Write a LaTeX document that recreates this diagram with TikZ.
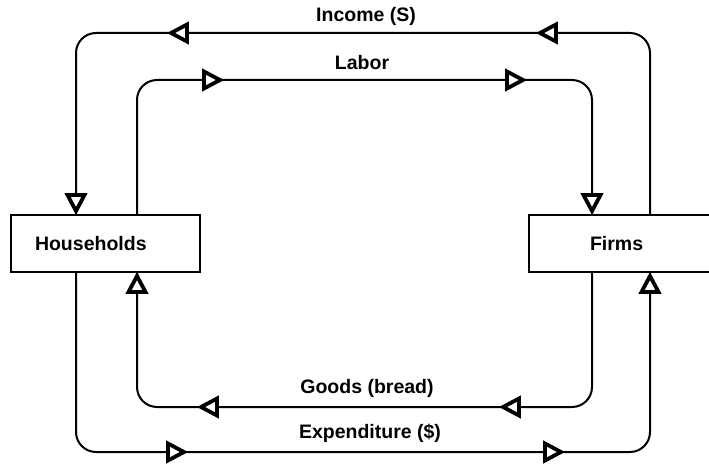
\documentclass[tikz,border=0pt]{standalone}
\usepackage{fontspec}
\setmainfont{Liberation Sans}
\usetikzlibrary{decorations.markings}
\newcommand\trimk{\draw[sharp corners, line width=3.8pt, fill=white, line join=miter, solid]
  (-4,0) -- (-20,8.5) -- (-20,-8.5) -- cycle;}
\tikzset{
  conn/.style={line width=2pt, rounded corners=20pt},
  mk/.style n args={2}{postaction={decorate,decoration={markings,
      mark=at position #1 with {\trimk},
      mark=at position #2 with {\trimk},
      mark=at position 1 with {\trimk}}}},
  box/.style={draw, line width=2pt, outer sep=0pt, minimum height=57pt, anchor=north west,
      font=\fontsize{19.5}{23}\selectfont\bfseries, align=left},
  lbl/.style={font=\fontsize{19.5}{23}\selectfont\bfseries, inner sep=0pt},
}
\begin{document}
\begin{tikzpicture}[x=1pt,y=-1pt]
\useasboundingbox (0,0) rectangle (709,465);
\fill[white] (0,0) rectangle (709,465);
\node[box, text width=141pt, inner xsep=24pt] (hh) at (11,215) {Households};
\node[box, text width=61pt, inner xsep=61pt] (fi) at (529,215) {Firms};
% Income
\draw[conn, mk={287.4pt}{656.4pt}]
  ([xshift=121pt]fi.north west) -- ++(0,-182) -| ([xshift=65pt]hh.north west);
% Labor
\draw[conn, mk={213.4pt}{516.4pt}]
  ([xshift=126pt]hh.north west) -- ++(0,-135) -| ([xshift=63pt]fi.north west);
% Goods
\draw[conn, mk={219.4pt}{521.4pt}]
  ([xshift=63pt]fi.south west) -- ++(0,135) -| ([xshift=126pt]hh.south west);
% Expenditure
\draw[conn, mk={283.4pt}{660.4pt}]
  ([xshift=65pt]hh.south west) -- ++(0,180) -| ([xshift=121pt]fi.south west);
\node[lbl] (inc) at (366,16) {Income (S)};
\node[lbl] (lab) at (362,63) {Labor};
\node[lbl] (goo) at (367,388) {Goods (bread)};
\node[lbl] (exp) at (370,433) {Expenditure (\$)};
\end{tikzpicture}
\end{document}
